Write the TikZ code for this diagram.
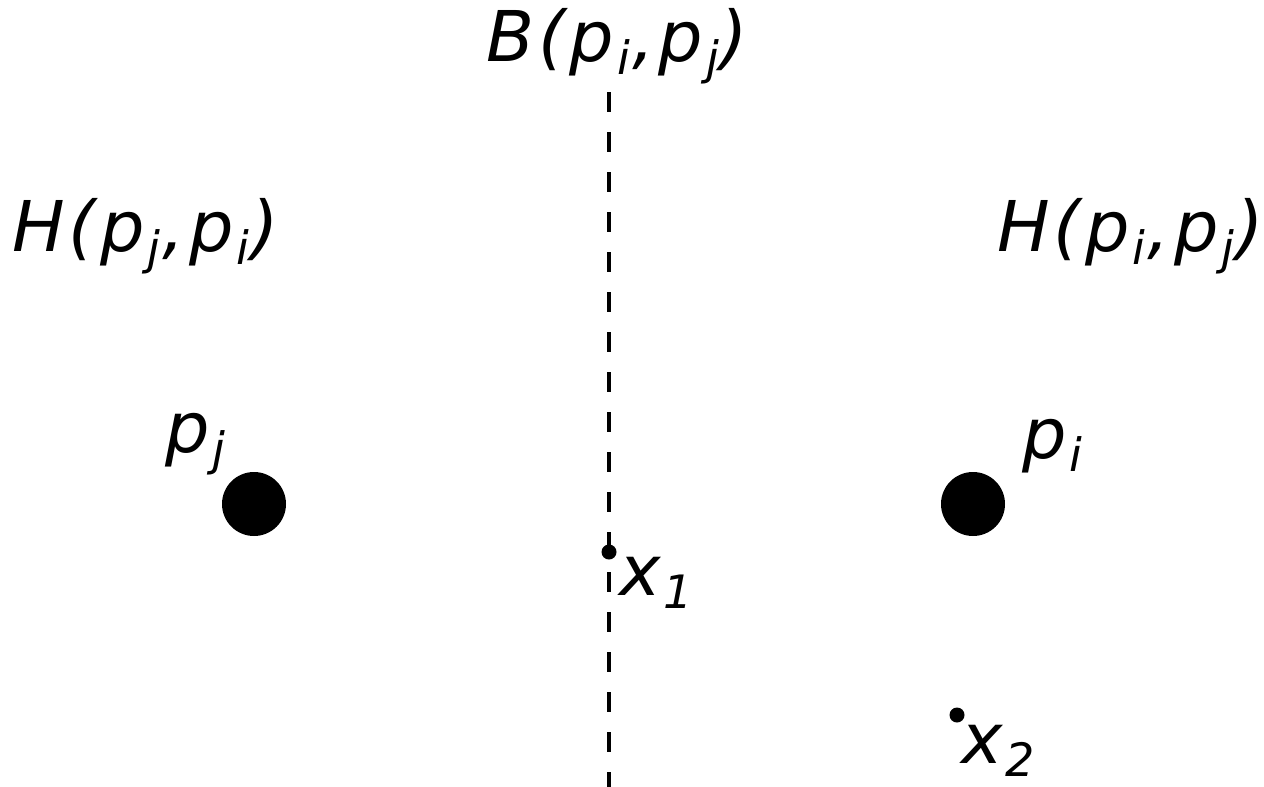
\documentclass[tikz,border=0pt]{standalone}
\usepackage{fontspec}
\setmainfont{DejaVu Sans}[LetterSpace=6]
\newcommand\lsb[1]{\kern3pt\raisebox{-13pt}{\fontsize{46}{46}\selectfont #1}\kern2pt}
\tikzset{
  lbl/.style={inner sep=0pt, anchor=base west, font=\fontsize{70}{80}\selectfont\itshape},
  bigpt/.style={circle, fill=black, inner sep=0pt, minimum size=64pt},
  smallpt/.style={circle, fill=black, inner sep=0pt, minimum size=15pt},
  bis/.style={line width=3.5pt, dash pattern=on 20pt off 20pt}
}
\begin{document}
\begin{tikzpicture}[x=1pt,y=-1pt]
\useasboundingbox (0,0) rectangle (1264,787);
\coordinate (btop) at (609,92);
\coordinate (bbot) at (609,787);
\draw[bis] (btop) -- (bbot);
\node[bigpt] (pj) at (254,504) {};
\node[bigpt] (pi) at (973,504) {};
\node[smallpt] (x1) at (609,552) {};
\node[smallpt] (x2) at (957,715) {};
\node[lbl] (B) at (486,61) {B(p\lsb{i},p\lsb{j})};
\node[lbl] (Hl) at (12,251) {H(p\lsb{j},p\lsb{i})};
\node[lbl] (Hr) at (997,251) {H(p\lsb{i},p\lsb{j})};
\node[lbl] (lpj) at (165,452) {p\lsb{j}};
\node[lbl] (lpi) at (1022,458) {p\lsb{i}};
\node[lbl] (lx1) at (619,595) {x\lsb{1}};
\node[lbl] (lx2) at (961,763) {x\lsb{2}};
\end{tikzpicture}
\end{document}
